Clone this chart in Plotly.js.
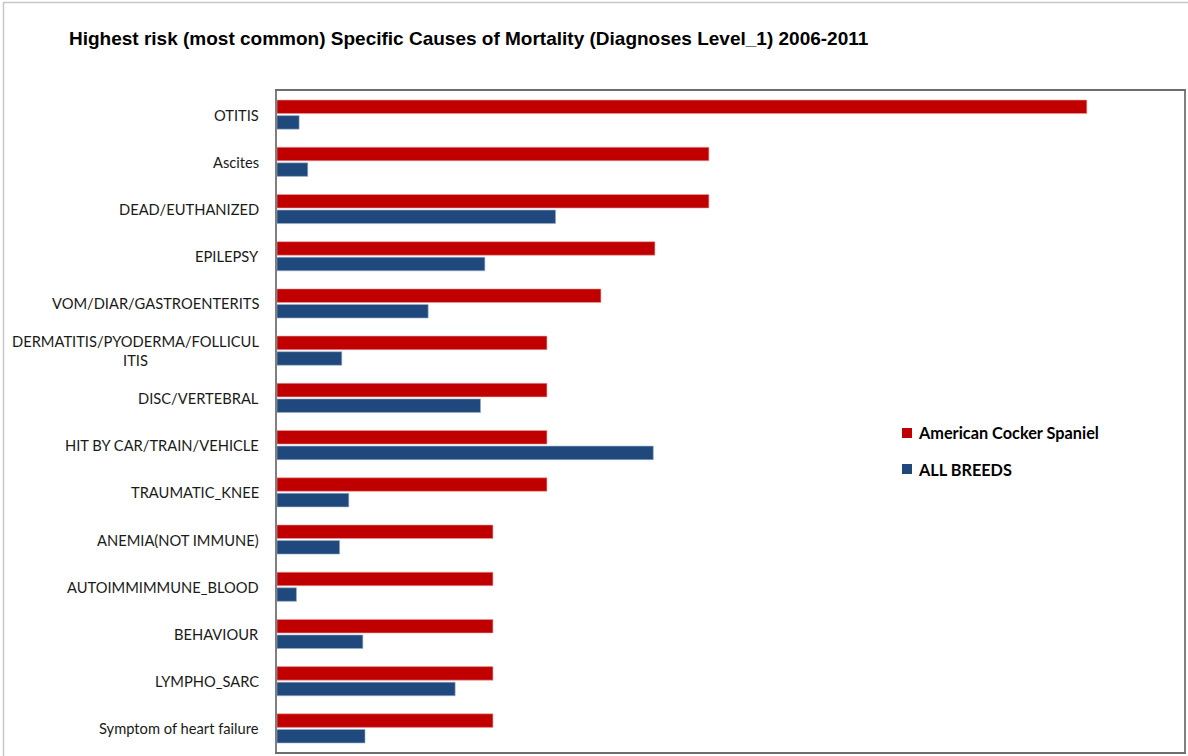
<!DOCTYPE html>
<html>
<head>
<meta charset="utf-8">
<script src="https://cdn.plot.ly/plotly-3.0.1.min.js"></script>
<style>
  html, body { margin: 0; padding: 0; background: #ffffff; }
  #chart { width: 1188px; height: 756px; }
</style>
</head>
<body>
<div id="chart"></div>
<script>
// Categories (top to bottom)
const categories = [
  "OTITIS",
  "Ascites",
  "DEAD/EUTHANIZED",
  "EPILEPSY",
  "VOM/DIAR/GASTROENTERITS",
  "DERMATITIS/PYODERMA/FOLLICUL<br>ITIS",
  "DISC/VERTEBRAL",
  "HIT BY CAR/TRAIN/VEHICLE",
  "TRAUMATIC_KNEE",
  "ANEMIA(NOT IMMUNE)",
  "AUTOIMMIMMUNE_BLOOD",
  "BEHAVIOUR",
  "LYMPHO_SARC",
  "Symptom of heart failure"
];

// Series values (% of deaths)
const cockerSpaniel = [1.5, 0.8, 0.8, 0.7, 0.6, 0.5, 0.5, 0.5, 0.5, 0.4, 0.4, 0.4, 0.4, 0.4];
const allBreeds = [0.041, 0.057, 0.516, 0.385, 0.280, 0.120, 0.377, 0.697, 0.133, 0.116, 0.036, 0.159, 0.330, 0.163];

const seriesNames = ["American Cocker Spaniel", "ALL BREEDS"];
const seriesColors = ["#C00000", "#1F497D"];
const titleText = "Highest risk (most common) Specific Causes of Mortality (Diagnoses Level_1) 2006-2011";

const labelFont = "Lato, 'Open Sans', sans-serif";

// plot area in pixels (for converting legend placement into paper coords)
const W = 1188, H = 756, ML = 277, MR = 4, MT = 91, MB = 4;
const PW = W - ML - MR, PH = H - MT - MB;
const px = v => (v - ML) / PW;
const py = v => (H - MB - v) / PH;

const traces = [
  {
    type: "bar", orientation: "h",
    name: seriesNames[0],
    x: cockerSpaniel, y: categories,
    marker: { color: seriesColors[0], line: { color: "#e8a0a0", width: 0.6 } },
    hoverinfo: "x+y"
  },
  {
    type: "bar", orientation: "h",
    name: seriesNames[1],
    x: allBreeds, y: categories,
    marker: { color: seriesColors[1], line: { color: "#a0b0c8", width: 0.6 } },
    hoverinfo: "x+y"
  }
];

// category labels (centred multi-line, right-aligned block)
const annotations = categories.map(c => ({
  xref: "paper", yref: "y",
  x: 0, y: c,
  xanchor: "right", yanchor: "middle",
  xshift: -16,
  text: c, showarrow: false, align: "center",
  font: { family: labelFont, size: 14.7, color: "#1a1a1a" }
}));

// legend (drawn as annotations + squares)
const legendRowsY = [433, 469];
const shapes = [];
seriesNames.forEach((name, i) => {
  annotations.push({
    xref: "paper", yref: "paper",
    x: px(916), y: py(legendRowsY[i]),
    xanchor: "left", yanchor: "middle",
    text: "<b>" + name + "</b>", showarrow: false, align: "left",
    font: { family: labelFont, size: 16.3, color: "#000000" }
  });
  shapes.push({
    type: "rect", xref: "paper", yref: "paper",
    x0: px(902), x1: px(912),
    y0: py(legendRowsY[i] + 5), y1: py(legendRowsY[i] - 5),
    line: { width: 0 }, fillcolor: seriesColors[i]
  });
});

// outer chart frame
shapes.push({
  type: "rect", xref: "paper", yref: "paper",
  x0: px(3.5), x1: 1.02,
  y0: -0.02, y1: py(2.5),
  line: { color: "#c8c8c8", width: 1.5 },
  fillcolor: "rgba(0,0,0,0)", layer: "below"
});

const layout = {
  width: W, height: H,
  paper_bgcolor: "#ffffff", plot_bgcolor: "#ffffff",
  margin: { l: ML, r: MR, t: MT, b: MB },
  title: {
    text: "<b>" + titleText + "</b>",
    x: 69 / W, xanchor: "left", xref: "container",
    y: 1 - 38 / H, yanchor: "middle", yref: "container",
    font: { family: "'Liberation Sans', Arial, sans-serif", size: 19, color: "#000000" }
  },
  barmode: "group",
  bargap: 0.34,
  bargroupgap: 0.13,
  xaxis: {
    range: [0, 1.68],
    showgrid: false, zeroline: false,
    showticklabels: false, ticks: "",
    showline: true, mirror: true, linecolor: "#6e6e6e", linewidth: 2
  },
  yaxis: {
    type: "category",
    autorange: "reversed",
    showgrid: false, zeroline: false,
    showticklabels: false, ticks: "",
    showline: true, mirror: true, linecolor: "#7f7f7f", linewidth: 2
  },
  showlegend: false,
  annotations: annotations,
  shapes: shapes
};

Plotly.newPlot("chart", traces, layout, { displayModeBar: false, staticPlot: true });
</script>
</body>
</html>
